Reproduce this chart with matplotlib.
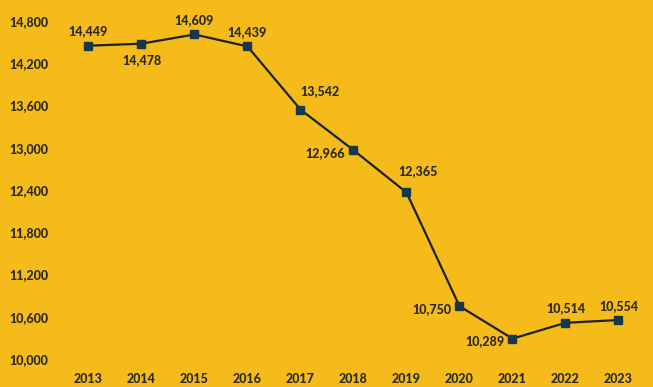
import matplotlib
matplotlib.use("Agg")
import matplotlib.pyplot as plt

years = [2013, 2014, 2015, 2016, 2017, 2018, 2019, 2020, 2021, 2022, 2023]
values = [14449, 14478, 14609, 14439, 13542, 12966, 12365, 10750, 10289, 10514, 10554]
yticks = [10000, 10600, 11200, 11800, 12400, 13000, 13600, 14200, 14800]

# label offsets in points (dx, dy) and alignment
offsets = [(0, 6, 'center'), (0, -16, 'center'), (0, 6, 'center'), (0, 6, 'center'),
           (14, 9, 'center'), (-6, -2, 'right'), (8, 11, 'center'), (-6, -2, 'right'),
           (-6, -2, 'right'), (0, 6, 'center'), (0, 6, 'center')]

bg = '#F5BB1B'
txt = '#2B2A1E'
line = '#1B2226'
mk = '#163848'

plt.rcParams['font.family'] = ['Lato', 'DejaVu Sans']
fig = plt.figure(figsize=(6.53, 3.87), dpi=100, facecolor=bg)
W, H = 653, 387
ax = fig.add_axes([62 / W, 28 / H, 583 / W, 338 / H])
ax.set_facecolor(bg)
ax.plot(years, values, color=line, lw=1.6, marker='s', ms=5.5,
        markerfacecolor=mk, markeredgecolor=mk, zorder=3)
ax.set_xlim(2012.5, 2023.5)
ax.set_ylim(10000, 14800)
ax.set_yticks(yticks)
ax.set_yticklabels([f"{v:,}" for v in yticks])
ax.set_xticks(years)
ax.set_xticklabels([str(y) for y in years])
for s in ax.spines.values():
    s.set_visible(False)
ax.tick_params(length=0, colors=txt, labelsize=9)
ax.tick_params(axis='y', pad=10)
ax.tick_params(axis='x', pad=10)
for lab in ax.get_xticklabels() + ax.get_yticklabels():
    lab.set_fontweight(900)
    lab.set_color(txt)

for x, v, (dx, dy, ha) in zip(years, values, offsets):
    ax.annotate(f"{v:,}", (x, v), xytext=(dx, dy), textcoords='offset points',
                ha=ha, va='center' if ha == 'right' else 'bottom',
                fontsize=9, fontweight=900, color=txt)

fig.savefig('out.png', dpi=100, facecolor=bg)
